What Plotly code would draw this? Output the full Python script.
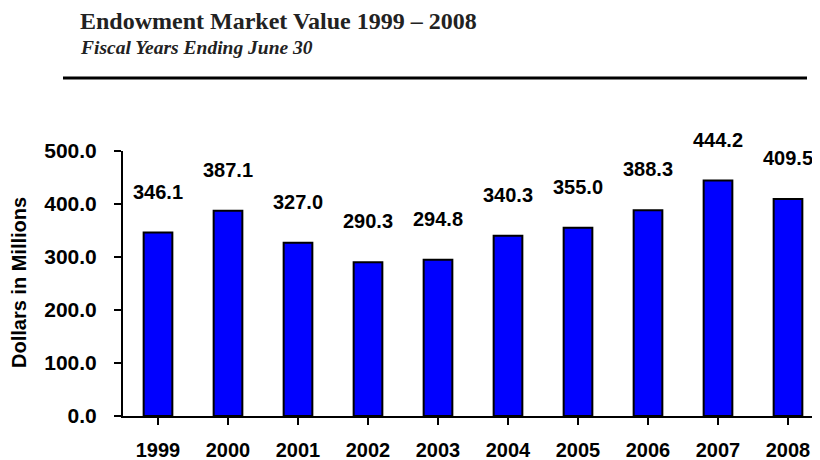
import plotly.graph_objects as go

years = ["1999", "2000", "2001", "2002", "2003", "2004", "2005", "2006", "2007", "2008"]
values = [346.1, 387.1, 327.0, 290.3, 294.8, 340.3, 355.0, 388.3, 444.2, 409.5]
y_ticks = [0, 100, 200, 300, 400, 500]
y_tick_labels = ["0.0", "100.0", "200.0", "300.0", "400.0", "500.0"]

title = "Endowment Market Value 1999 – 2008"
subtitle = "Fiscal Years Ending June 30"
y_title = "Dollars in Millions"

# the page body has an 8px default margin; work in window pixels and subtract it
OFF = 8
W, H = 820 - OFF, 460 - OFF
L = 123 - OFF
T = 151 - OFF
B = H - (416 - OFF)
R = 0
pw = W - L - R
ph = H - T - B

def px(x):
    return (x - OFF - L) / pw

def py(y):
    return (H - B - (y - OFF)) / ph

sans = "Liberation Sans, Arial, sans-serif"
serif = "Liberation Serif, Times New Roman, serif"

fig = go.Figure()
fig.add_trace(go.Bar(
    x=list(range(len(years))), y=values,
    marker=dict(color="#0000FF", line=dict(color="black", width=2)),
    width=0.41,
    hoverinfo="skip",
))

for i, v in enumerate(values):
    fig.add_annotation(
        x=i, y=v, xref="x", yref="y", text=f"<b>{v:.1f}</b>", showarrow=False,
        yanchor="middle", yshift=41,
        font=dict(family=sans, size=20, color="black"),
    )

fig.add_annotation(x=px(78), y=py(21), xref="paper", yref="paper", text="<b>" + title + "</b>",
                   showarrow=False, xanchor="left", yanchor="middle",
                   font=dict(family=serif, size=24, color="#222"))
fig.add_annotation(x=px(78), y=py(47), xref="paper", yref="paper", text="<b><i>" + subtitle + "</i></b>",
                   showarrow=False, xanchor="left", yanchor="middle",
                   font=dict(family=serif, size=19.5, color="#222"))
fig.add_shape(type="line", xref="paper", yref="paper", x0=px(63), x1=px(807), y0=py(78), y1=py(78),
              line=dict(color="black", width=3))
fig.add_annotation(x=px(19), y=py(283), xref="paper", yref="paper", text="<b>" + y_title + "</b>",
                   showarrow=False, textangle=-90, xanchor="center", yanchor="middle",
                   font=dict(family=sans, size=20, color="black"))

fig.update_layout(
    width=W, height=H,
    margin=dict(l=L, r=R, t=T, b=B, pad=0),
    paper_bgcolor="white", plot_bgcolor="white",
    showlegend=False,
)
fig.update_xaxes(
    range=[-0.5, -0.5 + pw / 70.0],
    tickmode="array", tickvals=list(range(len(years))), ticktext=["<b>" + y + "</b>" for y in years],
    tickson="boundaries", ticks="outside", ticklen=7, tickwidth=2, tickcolor="black",
    showline=True, linecolor="black", linewidth=2, showgrid=False, zeroline=False,
    tickfont=dict(family=sans, size=20, color="black"), ticklabelstandoff=8,
    automargin=False,
)
fig.update_yaxes(
    range=[0, 500],
    tickmode="array", tickvals=y_ticks, ticktext=["<b>" + t + "</b>" for t in y_tick_labels],
    ticks="outside", ticklen=7, tickwidth=2, tickcolor="black",
    showline=True, linecolor="black", linewidth=2, showgrid=False, zeroline=False,
    tickfont=dict(family=sans, size=21, color="black"), ticklabelstandoff=13,
    automargin=False,
)

fig.write_html("out.html")
